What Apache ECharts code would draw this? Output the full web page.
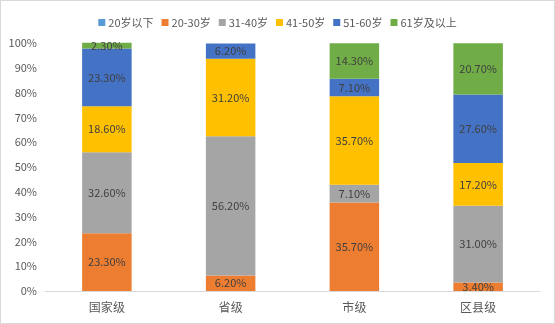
<!DOCTYPE html>
<html><head><meta charset="utf-8">
<script src="https://cdn.jsdelivr.net/npm/echarts@6/dist/echarts.min.js"></script>
<style>html,body{margin:0;padding:0;background:#fff}#c{width:553px;height:322px;border:1px solid #d9d9d9}</style>
</head><body><div id="c"></div>
<script>
const categories = ['国家级','省级','市级','区县级'];
const seriesNames = ['20岁以下','20-30岁','31-40岁','41-50岁','51-60岁','61岁及以上'];
const s20below = [0, 0, 0, 0];
const s20to30 = [23.3, 6.2, 35.7, 3.4];
const s31to40 = [32.6, 56.2, 7.1, 31.0];
const s41to50 = [18.6, 31.2, 35.7, 17.2];
const s51to60 = [23.3, 6.2, 7.1, 27.6];
const s61up = [2.3, 0, 14.3, 20.7];
const yTicks = [0,10,20,30,40,50,60,70,80,90,100];
const colors = ['#5B9BD5','#ED7D31','#A5A5A5','#FFC000','#4472C4','#70AD47'];
const allData = [s20below, s20to30, s31to40, s41to50, s51to60, s61up];
const font = '"Microsoft YaHei","Noto Sans CJK SC",sans-serif';
const chart = echarts.init(document.getElementById('c'));
chart.setOption({
  animation:false,
  color: colors,
  legend:{top:11,left:'center',itemWidth:7,itemHeight:7,itemGap:8,icon:'rect',
    textStyle:{fontSize:11,color:'#595959',fontFamily:font,padding:[0,0,0,-2]}},
  grid:{left:44,right:14,top:42,bottom:32},
  xAxis:{type:'category',data:categories,axisTick:{show:false},
    axisLine:{lineStyle:{color:'#d9d9d9'}},
    axisLabel:{fontSize:12,color:'#595959',fontFamily:font,margin:10}},
  yAxis:{type:'value',min:yTicks[0],max:yTicks[yTicks.length-1],interval:10,
    splitLine:{show:false},axisLine:{show:false},axisTick:{show:false},
    axisLabel:{fontSize:11,color:'#595959',fontFamily:font,formatter:v=>v+'%',margin:8}},
  series: seriesNames.map((n,i)=>({
    name:n,type:'bar',stack:'a',barWidth:'40%',clip:false,
    data:allData[i],
    label:{show:true,position:'inside',fontSize:11,color:'#404040',fontFamily:font,
      formatter:p=>p.value? p.value.toFixed(2)+'%':''}
  }))
});
</script></body></html>
